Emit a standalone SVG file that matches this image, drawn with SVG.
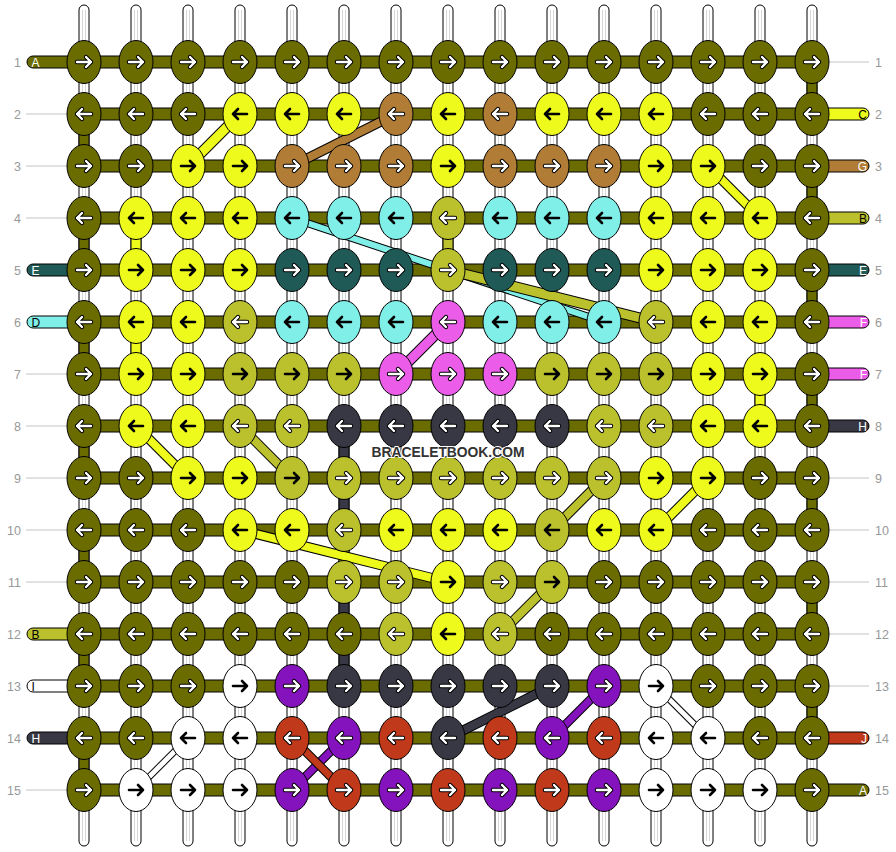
<svg xmlns="http://www.w3.org/2000/svg" xmlns:xlink="http://www.w3.org/1999/xlink" width="896" height="852" viewBox="0 0 896 852">
<style>
.num{font-family:"Liberation Sans",Arial,sans-serif;font-size:12.5px;fill:#999}
.lt{font-family:"Liberation Sans",Arial,sans-serif;font-size:12px}
.gl{stroke:#c4c4c4;stroke-width:1}
.st{fill:#fff;stroke:#000;stroke-width:1}
.sl{stroke:#d6d6d6;stroke-width:1}
.hb{fill:#6b6c00;stroke:#000;stroke-width:1}
.vs{stroke:#000;stroke-width:1}
.ed{stroke:#000;stroke-width:1}
.bo{fill:none;stroke:#000;stroke-linecap:butt}
.bi{fill:none;stroke-linecap:butt}
.o{fill:#6b6c00}.y{fill:#eef91c}.g{fill:#bbc12d}.b{fill:#b07c36}.c{fill:#80efe8}.t{fill:#1f5a57}.m{fill:#eb5de9}.d{fill:#383844}.w{fill:#fff}.p{fill:#8412bd}.r{fill:#c0391b}
.so{stroke:#6b6c00}.sy{stroke:#eef91c}.sg{stroke:#bbc12d}.sb{stroke:#b07c36}.sc{stroke:#80efe8}.sd{stroke:#383844}.sw{stroke:#fff}.sp{stroke:#8412bd}.sr{stroke:#c0391b}.sm{stroke:#eb5de9}
.wm{font-family:"Liberation Sans",Arial,sans-serif;font-weight:bold;font-size:15px;fill:#333;stroke:#fff;stroke-width:2;paint-order:stroke}
</style>
<defs>
<ellipse id="E" rx="17" ry="21.5" stroke="#000" stroke-width="1"/>
<path id="ar" d="M-7,0H7M2,-5L7,0L2,5" fill="none" stroke-linecap="round" stroke-linejoin="round"/>
<path id="al" d="M7,0H-7M-2,-5L-7,0L-2,5" fill="none" stroke-linecap="round" stroke-linejoin="round"/>
<g id="RW"><use href="#ar" stroke="#000" stroke-width="4.4"/><use href="#ar" stroke="#fff" stroke-width="2.4"/></g>
<g id="LW"><use href="#al" stroke="#000" stroke-width="4.4"/><use href="#al" stroke="#fff" stroke-width="2.4"/></g>
<g id="RB"><use href="#ar" stroke="#000" stroke-width="2.6"/></g>
<g id="LB"><use href="#al" stroke="#000" stroke-width="2.6"/></g>
</defs>
<rect width="896" height="852" fill="#fff"/>

<g id="labels">
<g class="num" text-anchor="end">
<text x="21" y="66.5">1</text><text x="21" y="118.5">2</text><text x="21" y="170.5">3</text><text x="21" y="222.5">4</text><text x="21" y="274.5">5</text><text x="21" y="326.5">6</text><text x="21" y="378.5">7</text><text x="21" y="430.5">8</text><text x="21" y="482.5">9</text><text x="21" y="534.5">10</text><text x="21" y="586.5">11</text><text x="21" y="638.5">12</text><text x="21" y="690.5">13</text><text x="21" y="742.5">14</text><text x="21" y="794.5">15</text>
</g>
<g class="num" text-anchor="start">
<text x="875" y="66.5">1</text><text x="875" y="118.5">2</text><text x="875" y="170.5">3</text><text x="875" y="222.5">4</text><text x="875" y="274.5">5</text><text x="875" y="326.5">6</text><text x="875" y="378.5">7</text><text x="875" y="430.5">8</text><text x="875" y="482.5">9</text><text x="875" y="534.5">10</text><text x="875" y="586.5">11</text><text x="875" y="638.5">12</text><text x="875" y="690.5">13</text><text x="875" y="742.5">14</text><text x="875" y="794.5">15</text>
</g>
<g class="gl">
<line x1="26" y1="114" x2="67" y2="114"/><line x1="26" y1="166" x2="67" y2="166"/><line x1="26" y1="218" x2="67" y2="218"/><line x1="26" y1="374" x2="67" y2="374"/><line x1="26" y1="426" x2="67" y2="426"/><line x1="26" y1="478" x2="67" y2="478"/><line x1="26" y1="530" x2="67" y2="530"/><line x1="26" y1="582" x2="67" y2="582"/><line x1="26" y1="790" x2="67" y2="790"/>
<line x1="829" y1="62" x2="869" y2="62"/><line x1="829" y1="478" x2="869" y2="478"/><line x1="829" y1="530" x2="869" y2="530"/><line x1="829" y1="582" x2="869" y2="582"/><line x1="829" y1="634" x2="869" y2="634"/><line x1="829" y1="686" x2="869" y2="686"/>
</g>
</g>

<g id="strands">
<g class="st">
<rect x="79" y="5" width="10" height="841" rx="5"/><rect x="131" y="5" width="10" height="841" rx="5"/><rect x="183" y="5" width="10" height="841" rx="5"/><rect x="235" y="5" width="10" height="841" rx="5"/><rect x="287" y="5" width="10" height="841" rx="5"/><rect x="339" y="5" width="10" height="841" rx="5"/><rect x="391" y="5" width="10" height="841" rx="5"/><rect x="443" y="5" width="10" height="841" rx="5"/><rect x="495" y="5" width="10" height="841" rx="5"/><rect x="547" y="5" width="10" height="841" rx="5"/><rect x="599" y="5" width="10" height="841" rx="5"/><rect x="651" y="5" width="10" height="841" rx="5"/><rect x="703" y="5" width="10" height="841" rx="5"/><rect x="755" y="5" width="10" height="841" rx="5"/><rect x="807" y="5" width="10" height="841" rx="5"/>
</g>
<g class="sl">
<path d="M82.5,10V841M85.5,10V841M134.5,10V841M137.5,10V841M186.5,10V841M189.5,10V841M238.5,10V841M241.5,10V841M290.5,10V841M293.5,10V841M342.5,10V841M345.5,10V841M394.5,10V841M397.5,10V841M446.5,10V841M449.5,10V841M498.5,10V841M501.5,10V841M550.5,10V841M553.5,10V841M602.5,10V841M605.5,10V841M654.5,10V841M657.5,10V841M706.5,10V841M709.5,10V841M758.5,10V841M761.5,10V841M810.5,10V841M813.5,10V841"/>
</g>
</g>

<g id="connectors">
<g class="hb">
<rect x="84" y="56" width="728" height="12"/><rect x="84" y="108" width="728" height="12"/><rect x="84" y="160" width="728" height="12"/><rect x="84" y="212" width="728" height="12"/><rect x="84" y="264" width="728" height="12"/><rect x="84" y="316" width="728" height="12"/><rect x="84" y="368" width="728" height="12"/><rect x="84" y="420" width="728" height="12"/><rect x="84" y="472" width="728" height="12"/><rect x="84" y="524" width="728" height="12"/><rect x="84" y="576" width="728" height="12"/><rect x="84" y="628" width="728" height="12"/><rect x="84" y="680" width="728" height="12"/><rect x="84" y="732" width="728" height="12"/><rect x="84" y="784" width="728" height="12"/>
</g>
<g class="ed">
<path class="o" d="M70,56H33a6,6 0 0 0 0,12H70z"/>
<path class="t" d="M70,264H33a6,6 0 0 0 0,12H70z"/>
<path class="c" d="M70,316H33a6,6 0 0 0 0,12H70z"/>
<path class="g" d="M70,628H33a6,6 0 0 0 0,12H70z"/>
<path class="w" d="M70,680H33a6,6 0 0 0 0,12H70z"/>
<path class="d" d="M70,732H33a6,6 0 0 0 0,12H70z"/>
<path class="y" d="M826,108H863a6,6 0 0 1 0,12H826z"/>
<path class="b" d="M826,160H863a6,6 0 0 1 0,12H826z"/>
<path class="g" d="M826,212H863a6,6 0 0 1 0,12H826z"/>
<path class="t" d="M826,264H863a6,6 0 0 1 0,12H826z"/>
<path class="m" d="M826,316H863a6,6 0 0 1 0,12H826z"/>
<path class="m" d="M826,368H863a6,6 0 0 1 0,12H826z"/>
<path class="d" d="M826,420H863a6,6 0 0 1 0,12H826z"/>
<path class="r" d="M826,732H863a6,6 0 0 1 0,12H826z"/>
<path class="o" d="M826,784H863a6,6 0 0 1 0,12H826z"/>
</g>
<g class="lt">
<text x="31.5" y="66.5" fill="#fff">A</text><text x="31.5" y="274.5" fill="#fff">E</text><text x="31.5" y="326.5" fill="#000">D</text><text x="31.5" y="638.5" fill="#000">B</text><text x="31.5" y="690.5" fill="#000">I</text><text x="31.5" y="742.5" fill="#fff">H</text>
</g>
<g class="lt" text-anchor="end">
<text x="867" y="118.5" fill="#000">C</text><text x="867" y="170.5" fill="#fff">G</text><text x="867" y="222.5" fill="#000">B</text><text x="867" y="274.5" fill="#fff">E</text><text x="867" y="326.5" fill="#fff">F</text><text x="867" y="378.5" fill="#fff">F</text><text x="867" y="430.5" fill="#fff">H</text><text x="867" y="742.5" fill="#fff">J</text><text x="867" y="794.5" fill="#fff">A</text>
</g>
<g class="vs">
<rect class="o" x="79" y="114" width="10" height="52"/><rect class="o" x="79" y="218" width="10" height="52"/><rect class="o" x="79" y="322" width="10" height="52"/><rect class="o" x="79" y="426" width="10" height="52"/><rect class="o" x="79" y="530" width="10" height="52"/><rect class="o" x="79" y="634" width="10" height="52"/><rect class="o" x="79" y="738" width="10" height="52"/>
<rect class="o" x="807" y="62" width="10" height="52"/><rect class="o" x="807" y="166" width="10" height="52"/><rect class="o" x="807" y="270" width="10" height="52"/><rect class="o" x="807" y="374" width="10" height="52"/><rect class="o" x="807" y="478" width="10" height="52"/><rect class="o" x="807" y="582" width="10" height="52"/><rect class="o" x="807" y="686" width="10" height="52"/>
<rect class="y" x="131" y="218" width="10" height="52"/><rect class="y" x="131" y="322" width="10" height="52"/>
<rect class="g" x="443" y="218" width="10" height="52"/>
<rect class="d" x="339" y="426" width="10" height="104"/><rect class="g" x="339" y="530" width="10" height="52"/><rect class="d" x="339" y="582" width="10" height="104"/>
<rect class="y" x="755" y="374" width="10" height="52"/>
</g>
<g id="diagonals">
<path class="bo" stroke-width="11" d="M240,114L188,166"/><path class="bi sy" stroke-width="9" d="M240,114L188,166"/>
<path class="bo" stroke-width="10" d="M396,114L292,166"/><path class="bi sb" stroke-width="8" d="M396,114L292,166"/>
<path class="bo" stroke-width="10" d="M708,166L760,218"/><path class="bi sy" stroke-width="8" d="M708,166L760,218"/>
<path class="bo" stroke-width="8" d="M292,218L604,322"/><path class="bi sc" stroke-width="6" d="M292,218L604,322"/>
<path class="bo" stroke-width="11" d="M448,270L656,322"/><path class="bi sg" stroke-width="9" d="M448,270L656,322"/>
<path class="bo" stroke-width="11" d="M448,322L396,374"/><path class="bi sm" stroke-width="9" d="M448,322L396,374"/>
<path class="bo" stroke-width="10" d="M136,426L188,478"/><path class="bi sy" stroke-width="8" d="M136,426L188,478"/>
<path class="bo" stroke-width="10" d="M240,426L292,478"/><path class="bi sg" stroke-width="8" d="M240,426L292,478"/>
<path class="bo" stroke-width="10" d="M240,530L448,582"/><path class="bi sy" stroke-width="8" d="M240,530L448,582"/>
<path class="bo" stroke-width="10" d="M604,478L552,530"/><path class="bi sg" stroke-width="8" d="M604,478L552,530"/>
<path class="bo" stroke-width="10" d="M708,478L656,530"/><path class="bi sy" stroke-width="8" d="M708,478L656,530"/>
<path class="bo" stroke-width="10" d="M552,582L500,634"/><path class="bi sg" stroke-width="8" d="M552,582L500,634"/>
<path class="bo" stroke-width="7" d="M188,738L136,790"/><path class="bi sw" stroke-width="5" d="M188,738L136,790"/>
<path class="bo" stroke-width="7" d="M656,686L708,738"/><path class="bi sw" stroke-width="5" d="M656,686L708,738"/>
<path class="bo" stroke-width="9" d="M344,738L292,790"/><path class="bi sp" stroke-width="7" d="M344,738L292,790"/>
<path class="bo" stroke-width="9" d="M292,738L344,790"/><path class="bi sr" stroke-width="7" d="M292,738L344,790"/>
<path class="bo" stroke-width="10" d="M552,686L448,738"/><path class="bi sd" stroke-width="8" d="M552,686L448,738"/>
<path class="bo" stroke-width="9" d="M604,686L552,738"/><path class="bi sp" stroke-width="7" d="M604,686L552,738"/>
</g>
</g>

<g id="knots">
<g id="k1-1" transform="translate(84,62)"><use href="#E" class="o"/><use href="#RW"/></g>
<g id="k1-2" transform="translate(136,62)"><use href="#E" class="o"/><use href="#RW"/></g>
<g id="k1-3" transform="translate(188,62)"><use href="#E" class="o"/><use href="#RW"/></g>
<g id="k1-4" transform="translate(240,62)"><use href="#E" class="o"/><use href="#RW"/></g>
<g id="k1-5" transform="translate(292,62)"><use href="#E" class="o"/><use href="#RW"/></g>
<g id="k1-6" transform="translate(344,62)"><use href="#E" class="o"/><use href="#RW"/></g>
<g id="k1-7" transform="translate(396,62)"><use href="#E" class="o"/><use href="#RW"/></g>
<g id="k1-8" transform="translate(448,62)"><use href="#E" class="o"/><use href="#RW"/></g>
<g id="k1-9" transform="translate(500,62)"><use href="#E" class="o"/><use href="#RW"/></g>
<g id="k1-10" transform="translate(552,62)"><use href="#E" class="o"/><use href="#RW"/></g>
<g id="k1-11" transform="translate(604,62)"><use href="#E" class="o"/><use href="#RW"/></g>
<g id="k1-12" transform="translate(656,62)"><use href="#E" class="o"/><use href="#RW"/></g>
<g id="k1-13" transform="translate(708,62)"><use href="#E" class="o"/><use href="#RW"/></g>
<g id="k1-14" transform="translate(760,62)"><use href="#E" class="o"/><use href="#RW"/></g>
<g id="k1-15" transform="translate(812,62)"><use href="#E" class="o"/><use href="#RW"/></g>

<g id="k2-1" transform="translate(84,114)"><use href="#E" class="o"/><use href="#LW"/></g>
<g id="k2-2" transform="translate(136,114)"><use href="#E" class="o"/><use href="#LW"/></g>
<g id="k2-3" transform="translate(188,114)"><use href="#E" class="o"/><use href="#LW"/></g>
<g id="k2-4" transform="translate(240,114)"><use href="#E" class="y"/><use href="#LB"/></g>
<g id="k2-5" transform="translate(292,114)"><use href="#E" class="y"/><use href="#LB"/></g>
<g id="k2-6" transform="translate(344,114)"><use href="#E" class="y"/><use href="#LB"/></g>
<g id="k2-7" transform="translate(396,114)"><use href="#E" class="b"/><use href="#LW"/></g>
<g id="k2-8" transform="translate(448,114)"><use href="#E" class="y"/><use href="#LB"/></g>
<g id="k2-9" transform="translate(500,114)"><use href="#E" class="b"/><use href="#LW"/></g>
<g id="k2-10" transform="translate(552,114)"><use href="#E" class="y"/><use href="#LB"/></g>
<g id="k2-11" transform="translate(604,114)"><use href="#E" class="y"/><use href="#LB"/></g>
<g id="k2-12" transform="translate(656,114)"><use href="#E" class="y"/><use href="#LB"/></g>
<g id="k2-13" transform="translate(708,114)"><use href="#E" class="o"/><use href="#LW"/></g>
<g id="k2-14" transform="translate(760,114)"><use href="#E" class="o"/><use href="#LW"/></g>
<g id="k2-15" transform="translate(812,114)"><use href="#E" class="o"/><use href="#LW"/></g>

<g id="k3-1" transform="translate(84,166)"><use href="#E" class="o"/><use href="#RW"/></g>
<g id="k3-2" transform="translate(136,166)"><use href="#E" class="o"/><use href="#RW"/></g>
<g id="k3-3" transform="translate(188,166)"><use href="#E" class="y"/><use href="#RB"/></g>
<g id="k3-4" transform="translate(240,166)"><use href="#E" class="y"/><use href="#RB"/></g>
<g id="k3-5" transform="translate(292,166)"><use href="#E" class="b"/><use href="#RW"/></g>
<g id="k3-6" transform="translate(344,166)"><use href="#E" class="b"/><use href="#RW"/></g>
<g id="k3-7" transform="translate(396,166)"><use href="#E" class="b"/><use href="#RW"/></g>
<g id="k3-8" transform="translate(448,166)"><use href="#E" class="y"/><use href="#RB"/></g>
<g id="k3-9" transform="translate(500,166)"><use href="#E" class="b"/><use href="#RW"/></g>
<g id="k3-10" transform="translate(552,166)"><use href="#E" class="b"/><use href="#RW"/></g>
<g id="k3-11" transform="translate(604,166)"><use href="#E" class="b"/><use href="#RW"/></g>
<g id="k3-12" transform="translate(656,166)"><use href="#E" class="y"/><use href="#RB"/></g>
<g id="k3-13" transform="translate(708,166)"><use href="#E" class="y"/><use href="#RB"/></g>
<g id="k3-14" transform="translate(760,166)"><use href="#E" class="o"/><use href="#RW"/></g>
<g id="k3-15" transform="translate(812,166)"><use href="#E" class="o"/><use href="#RW"/></g>

<g id="k4-1" transform="translate(84,218)"><use href="#E" class="o"/><use href="#LW"/></g>
<g id="k4-2" transform="translate(136,218)"><use href="#E" class="y"/><use href="#LB"/></g>
<g id="k4-3" transform="translate(188,218)"><use href="#E" class="y"/><use href="#LB"/></g>
<g id="k4-4" transform="translate(240,218)"><use href="#E" class="y"/><use href="#LB"/></g>
<g id="k4-5" transform="translate(292,218)"><use href="#E" class="c"/><use href="#LB"/></g>
<g id="k4-6" transform="translate(344,218)"><use href="#E" class="c"/><use href="#LB"/></g>
<g id="k4-7" transform="translate(396,218)"><use href="#E" class="c"/><use href="#LB"/></g>
<g id="k4-8" transform="translate(448,218)"><use href="#E" class="g"/><use href="#LW"/></g>
<g id="k4-9" transform="translate(500,218)"><use href="#E" class="c"/><use href="#LB"/></g>
<g id="k4-10" transform="translate(552,218)"><use href="#E" class="c"/><use href="#LB"/></g>
<g id="k4-11" transform="translate(604,218)"><use href="#E" class="c"/><use href="#LB"/></g>
<g id="k4-12" transform="translate(656,218)"><use href="#E" class="y"/><use href="#LB"/></g>
<g id="k4-13" transform="translate(708,218)"><use href="#E" class="y"/><use href="#LB"/></g>
<g id="k4-14" transform="translate(760,218)"><use href="#E" class="y"/><use href="#LB"/></g>
<g id="k4-15" transform="translate(812,218)"><use href="#E" class="o"/><use href="#LW"/></g>

<g id="k5-1" transform="translate(84,270)"><use href="#E" class="o"/><use href="#RW"/></g>
<g id="k5-2" transform="translate(136,270)"><use href="#E" class="y"/><use href="#RB"/></g>
<g id="k5-3" transform="translate(188,270)"><use href="#E" class="y"/><use href="#RB"/></g>
<g id="k5-4" transform="translate(240,270)"><use href="#E" class="y"/><use href="#RB"/></g>
<g id="k5-5" transform="translate(292,270)"><use href="#E" class="t"/><use href="#RW"/></g>
<g id="k5-6" transform="translate(344,270)"><use href="#E" class="t"/><use href="#RW"/></g>
<g id="k5-7" transform="translate(396,270)"><use href="#E" class="t"/><use href="#RW"/></g>
<g id="k5-8" transform="translate(448,270)"><use href="#E" class="g"/><use href="#RW"/></g>
<g id="k5-9" transform="translate(500,270)"><use href="#E" class="t"/><use href="#RW"/></g>
<g id="k5-10" transform="translate(552,270)"><use href="#E" class="t"/><use href="#RW"/></g>
<g id="k5-11" transform="translate(604,270)"><use href="#E" class="t"/><use href="#RW"/></g>
<g id="k5-12" transform="translate(656,270)"><use href="#E" class="y"/><use href="#RB"/></g>
<g id="k5-13" transform="translate(708,270)"><use href="#E" class="y"/><use href="#RB"/></g>
<g id="k5-14" transform="translate(760,270)"><use href="#E" class="y"/><use href="#RB"/></g>
<g id="k5-15" transform="translate(812,270)"><use href="#E" class="o"/><use href="#RW"/></g>

<g id="k6-1" transform="translate(84,322)"><use href="#E" class="o"/><use href="#LW"/></g>
<g id="k6-2" transform="translate(136,322)"><use href="#E" class="y"/><use href="#LB"/></g>
<g id="k6-3" transform="translate(188,322)"><use href="#E" class="y"/><use href="#LB"/></g>
<g id="k6-4" transform="translate(240,322)"><use href="#E" class="g"/><use href="#LW"/></g>
<g id="k6-5" transform="translate(292,322)"><use href="#E" class="c"/><use href="#LB"/></g>
<g id="k6-6" transform="translate(344,322)"><use href="#E" class="c"/><use href="#LB"/></g>
<g id="k6-7" transform="translate(396,322)"><use href="#E" class="c"/><use href="#LB"/></g>
<g id="k6-8" transform="translate(448,322)"><use href="#E" class="m"/><use href="#LW"/></g>
<g id="k6-9" transform="translate(500,322)"><use href="#E" class="c"/><use href="#LB"/></g>
<g id="k6-10" transform="translate(552,322)"><use href="#E" class="c"/><use href="#LB"/></g>
<g id="k6-11" transform="translate(604,322)"><use href="#E" class="c"/><use href="#LB"/></g>
<g id="k6-12" transform="translate(656,322)"><use href="#E" class="g"/><use href="#LW"/></g>
<g id="k6-13" transform="translate(708,322)"><use href="#E" class="y"/><use href="#LB"/></g>
<g id="k6-14" transform="translate(760,322)"><use href="#E" class="y"/><use href="#LB"/></g>
<g id="k6-15" transform="translate(812,322)"><use href="#E" class="o"/><use href="#LW"/></g>

<g id="k7-1" transform="translate(84,374)"><use href="#E" class="o"/><use href="#RW"/></g>
<g id="k7-2" transform="translate(136,374)"><use href="#E" class="y"/><use href="#RB"/></g>
<g id="k7-3" transform="translate(188,374)"><use href="#E" class="y"/><use href="#RB"/></g>
<g id="k7-4" transform="translate(240,374)"><use href="#E" class="g"/><use href="#RB"/></g>
<g id="k7-5" transform="translate(292,374)"><use href="#E" class="g"/><use href="#RB"/></g>
<g id="k7-6" transform="translate(344,374)"><use href="#E" class="g"/><use href="#RB"/></g>
<g id="k7-7" transform="translate(396,374)"><use href="#E" class="m"/><use href="#RW"/></g>
<g id="k7-8" transform="translate(448,374)"><use href="#E" class="m"/><use href="#RW"/></g>
<g id="k7-9" transform="translate(500,374)"><use href="#E" class="m"/><use href="#RW"/></g>
<g id="k7-10" transform="translate(552,374)"><use href="#E" class="g"/><use href="#RB"/></g>
<g id="k7-11" transform="translate(604,374)"><use href="#E" class="g"/><use href="#RB"/></g>
<g id="k7-12" transform="translate(656,374)"><use href="#E" class="g"/><use href="#RB"/></g>
<g id="k7-13" transform="translate(708,374)"><use href="#E" class="y"/><use href="#RB"/></g>
<g id="k7-14" transform="translate(760,374)"><use href="#E" class="y"/><use href="#RB"/></g>
<g id="k7-15" transform="translate(812,374)"><use href="#E" class="o"/><use href="#RW"/></g>

<g id="k8-1" transform="translate(84,426)"><use href="#E" class="o"/><use href="#LW"/></g>
<g id="k8-2" transform="translate(136,426)"><use href="#E" class="y"/><use href="#LB"/></g>
<g id="k8-3" transform="translate(188,426)"><use href="#E" class="y"/><use href="#LB"/></g>
<g id="k8-4" transform="translate(240,426)"><use href="#E" class="g"/><use href="#LW"/></g>
<g id="k8-5" transform="translate(292,426)"><use href="#E" class="g"/><use href="#LW"/></g>
<g id="k8-6" transform="translate(344,426)"><use href="#E" class="d"/><use href="#LW"/></g>
<g id="k8-7" transform="translate(396,426)"><use href="#E" class="d"/><use href="#LW"/></g>
<g id="k8-8" transform="translate(448,426)"><use href="#E" class="d"/><use href="#LW"/></g>
<g id="k8-9" transform="translate(500,426)"><use href="#E" class="d"/><use href="#LW"/></g>
<g id="k8-10" transform="translate(552,426)"><use href="#E" class="d"/><use href="#LW"/></g>
<g id="k8-11" transform="translate(604,426)"><use href="#E" class="g"/><use href="#LW"/></g>
<g id="k8-12" transform="translate(656,426)"><use href="#E" class="g"/><use href="#LW"/></g>
<g id="k8-13" transform="translate(708,426)"><use href="#E" class="y"/><use href="#LB"/></g>
<g id="k8-14" transform="translate(760,426)"><use href="#E" class="y"/><use href="#LB"/></g>
<g id="k8-15" transform="translate(812,426)"><use href="#E" class="o"/><use href="#LW"/></g>

<g id="k9-1" transform="translate(84,478)"><use href="#E" class="o"/><use href="#RW"/></g>
<g id="k9-2" transform="translate(136,478)"><use href="#E" class="o"/><use href="#RW"/></g>
<g id="k9-3" transform="translate(188,478)"><use href="#E" class="y"/><use href="#RB"/></g>
<g id="k9-4" transform="translate(240,478)"><use href="#E" class="y"/><use href="#RB"/></g>
<g id="k9-5" transform="translate(292,478)"><use href="#E" class="g"/><use href="#RB"/></g>
<g id="k9-6" transform="translate(344,478)"><use href="#E" class="g"/><use href="#RW"/></g>
<g id="k9-7" transform="translate(396,478)"><use href="#E" class="g"/><use href="#RW"/></g>
<g id="k9-8" transform="translate(448,478)"><use href="#E" class="g"/><use href="#RW"/></g>
<g id="k9-9" transform="translate(500,478)"><use href="#E" class="g"/><use href="#RW"/></g>
<g id="k9-10" transform="translate(552,478)"><use href="#E" class="g"/><use href="#RW"/></g>
<g id="k9-11" transform="translate(604,478)"><use href="#E" class="g"/><use href="#RW"/></g>
<g id="k9-12" transform="translate(656,478)"><use href="#E" class="y"/><use href="#RB"/></g>
<g id="k9-13" transform="translate(708,478)"><use href="#E" class="y"/><use href="#RB"/></g>
<g id="k9-14" transform="translate(760,478)"><use href="#E" class="o"/><use href="#RW"/></g>
<g id="k9-15" transform="translate(812,478)"><use href="#E" class="o"/><use href="#RW"/></g>

<g id="k10-1" transform="translate(84,530)"><use href="#E" class="o"/><use href="#LW"/></g>
<g id="k10-2" transform="translate(136,530)"><use href="#E" class="o"/><use href="#LW"/></g>
<g id="k10-3" transform="translate(188,530)"><use href="#E" class="o"/><use href="#LW"/></g>
<g id="k10-4" transform="translate(240,530)"><use href="#E" class="y"/><use href="#LB"/></g>
<g id="k10-5" transform="translate(292,530)"><use href="#E" class="y"/><use href="#LB"/></g>
<g id="k10-6" transform="translate(344,530)"><use href="#E" class="g"/><use href="#LW"/></g>
<g id="k10-7" transform="translate(396,530)"><use href="#E" class="y"/><use href="#LB"/></g>
<g id="k10-8" transform="translate(448,530)"><use href="#E" class="y"/><use href="#LB"/></g>
<g id="k10-9" transform="translate(500,530)"><use href="#E" class="y"/><use href="#LB"/></g>
<g id="k10-10" transform="translate(552,530)"><use href="#E" class="g"/><use href="#LB"/></g>
<g id="k10-11" transform="translate(604,530)"><use href="#E" class="y"/><use href="#LB"/></g>
<g id="k10-12" transform="translate(656,530)"><use href="#E" class="y"/><use href="#LB"/></g>
<g id="k10-13" transform="translate(708,530)"><use href="#E" class="o"/><use href="#LW"/></g>
<g id="k10-14" transform="translate(760,530)"><use href="#E" class="o"/><use href="#LW"/></g>
<g id="k10-15" transform="translate(812,530)"><use href="#E" class="o"/><use href="#LW"/></g>

<g id="k11-1" transform="translate(84,582)"><use href="#E" class="o"/><use href="#RW"/></g>
<g id="k11-2" transform="translate(136,582)"><use href="#E" class="o"/><use href="#RW"/></g>
<g id="k11-3" transform="translate(188,582)"><use href="#E" class="o"/><use href="#RW"/></g>
<g id="k11-4" transform="translate(240,582)"><use href="#E" class="o"/><use href="#RW"/></g>
<g id="k11-5" transform="translate(292,582)"><use href="#E" class="o"/><use href="#RW"/></g>
<g id="k11-6" transform="translate(344,582)"><use href="#E" class="g"/><use href="#RW"/></g>
<g id="k11-7" transform="translate(396,582)"><use href="#E" class="g"/><use href="#RW"/></g>
<g id="k11-8" transform="translate(448,582)"><use href="#E" class="y"/><use href="#RB"/></g>
<g id="k11-9" transform="translate(500,582)"><use href="#E" class="g"/><use href="#RW"/></g>
<g id="k11-10" transform="translate(552,582)"><use href="#E" class="g"/><use href="#RB"/></g>
<g id="k11-11" transform="translate(604,582)"><use href="#E" class="o"/><use href="#RW"/></g>
<g id="k11-12" transform="translate(656,582)"><use href="#E" class="o"/><use href="#RW"/></g>
<g id="k11-13" transform="translate(708,582)"><use href="#E" class="o"/><use href="#RW"/></g>
<g id="k11-14" transform="translate(760,582)"><use href="#E" class="o"/><use href="#RW"/></g>
<g id="k11-15" transform="translate(812,582)"><use href="#E" class="o"/><use href="#RW"/></g>

<g id="k12-1" transform="translate(84,634)"><use href="#E" class="o"/><use href="#LW"/></g>
<g id="k12-2" transform="translate(136,634)"><use href="#E" class="o"/><use href="#LW"/></g>
<g id="k12-3" transform="translate(188,634)"><use href="#E" class="o"/><use href="#LW"/></g>
<g id="k12-4" transform="translate(240,634)"><use href="#E" class="o"/><use href="#LW"/></g>
<g id="k12-5" transform="translate(292,634)"><use href="#E" class="o"/><use href="#LW"/></g>
<g id="k12-6" transform="translate(344,634)"><use href="#E" class="o"/><use href="#LW"/></g>
<g id="k12-7" transform="translate(396,634)"><use href="#E" class="g"/><use href="#LW"/></g>
<g id="k12-8" transform="translate(448,634)"><use href="#E" class="y"/><use href="#LB"/></g>
<g id="k12-9" transform="translate(500,634)"><use href="#E" class="g"/><use href="#LW"/></g>
<g id="k12-10" transform="translate(552,634)"><use href="#E" class="o"/><use href="#LW"/></g>
<g id="k12-11" transform="translate(604,634)"><use href="#E" class="o"/><use href="#LW"/></g>
<g id="k12-12" transform="translate(656,634)"><use href="#E" class="o"/><use href="#LW"/></g>
<g id="k12-13" transform="translate(708,634)"><use href="#E" class="o"/><use href="#LW"/></g>
<g id="k12-14" transform="translate(760,634)"><use href="#E" class="o"/><use href="#LW"/></g>
<g id="k12-15" transform="translate(812,634)"><use href="#E" class="o"/><use href="#LW"/></g>

<g id="k13-1" transform="translate(84,686)"><use href="#E" class="o"/><use href="#RW"/></g>
<g id="k13-2" transform="translate(136,686)"><use href="#E" class="o"/><use href="#RW"/></g>
<g id="k13-3" transform="translate(188,686)"><use href="#E" class="o"/><use href="#RW"/></g>
<g id="k13-4" transform="translate(240,686)"><use href="#E" class="w"/><use href="#RB"/></g>
<g id="k13-5" transform="translate(292,686)"><use href="#E" class="p"/><use href="#RW"/></g>
<g id="k13-6" transform="translate(344,686)"><use href="#E" class="d"/><use href="#RW"/></g>
<g id="k13-7" transform="translate(396,686)"><use href="#E" class="d"/><use href="#RW"/></g>
<g id="k13-8" transform="translate(448,686)"><use href="#E" class="d"/><use href="#RW"/></g>
<g id="k13-9" transform="translate(500,686)"><use href="#E" class="d"/><use href="#RW"/></g>
<g id="k13-10" transform="translate(552,686)"><use href="#E" class="d"/><use href="#RW"/></g>
<g id="k13-11" transform="translate(604,686)"><use href="#E" class="p"/><use href="#RW"/></g>
<g id="k13-12" transform="translate(656,686)"><use href="#E" class="w"/><use href="#RB"/></g>
<g id="k13-13" transform="translate(708,686)"><use href="#E" class="o"/><use href="#RW"/></g>
<g id="k13-14" transform="translate(760,686)"><use href="#E" class="o"/><use href="#RW"/></g>
<g id="k13-15" transform="translate(812,686)"><use href="#E" class="o"/><use href="#RW"/></g>

<g id="k14-1" transform="translate(84,738)"><use href="#E" class="o"/><use href="#LW"/></g>
<g id="k14-2" transform="translate(136,738)"><use href="#E" class="o"/><use href="#LW"/></g>
<g id="k14-3" transform="translate(188,738)"><use href="#E" class="w"/><use href="#LB"/></g>
<g id="k14-4" transform="translate(240,738)"><use href="#E" class="w"/><use href="#LB"/></g>
<g id="k14-5" transform="translate(292,738)"><use href="#E" class="r"/><use href="#LW"/></g>
<g id="k14-6" transform="translate(344,738)"><use href="#E" class="p"/><use href="#LW"/></g>
<g id="k14-7" transform="translate(396,738)"><use href="#E" class="r"/><use href="#LW"/></g>
<g id="k14-8" transform="translate(448,738)"><use href="#E" class="d"/><use href="#LW"/></g>
<g id="k14-9" transform="translate(500,738)"><use href="#E" class="r"/><use href="#LW"/></g>
<g id="k14-10" transform="translate(552,738)"><use href="#E" class="p"/><use href="#LW"/></g>
<g id="k14-11" transform="translate(604,738)"><use href="#E" class="r"/><use href="#LW"/></g>
<g id="k14-12" transform="translate(656,738)"><use href="#E" class="w"/><use href="#LB"/></g>
<g id="k14-13" transform="translate(708,738)"><use href="#E" class="w"/><use href="#LB"/></g>
<g id="k14-14" transform="translate(760,738)"><use href="#E" class="o"/><use href="#LW"/></g>
<g id="k14-15" transform="translate(812,738)"><use href="#E" class="o"/><use href="#LW"/></g>

<g id="k15-1" transform="translate(84,790)"><use href="#E" class="o"/><use href="#RW"/></g>
<g id="k15-2" transform="translate(136,790)"><use href="#E" class="w"/><use href="#RB"/></g>
<g id="k15-3" transform="translate(188,790)"><use href="#E" class="w"/><use href="#RB"/></g>
<g id="k15-4" transform="translate(240,790)"><use href="#E" class="w"/><use href="#RB"/></g>
<g id="k15-5" transform="translate(292,790)"><use href="#E" class="p"/><use href="#RW"/></g>
<g id="k15-6" transform="translate(344,790)"><use href="#E" class="r"/><use href="#RW"/></g>
<g id="k15-7" transform="translate(396,790)"><use href="#E" class="p"/><use href="#RW"/></g>
<g id="k15-8" transform="translate(448,790)"><use href="#E" class="r"/><use href="#RW"/></g>
<g id="k15-9" transform="translate(500,790)"><use href="#E" class="p"/><use href="#RW"/></g>
<g id="k15-10" transform="translate(552,790)"><use href="#E" class="r"/><use href="#RW"/></g>
<g id="k15-11" transform="translate(604,790)"><use href="#E" class="p"/><use href="#RW"/></g>
<g id="k15-12" transform="translate(656,790)"><use href="#E" class="w"/><use href="#RB"/></g>
<g id="k15-13" transform="translate(708,790)"><use href="#E" class="w"/><use href="#RB"/></g>
<g id="k15-14" transform="translate(760,790)"><use href="#E" class="w"/><use href="#RB"/></g>
<g id="k15-15" transform="translate(812,790)"><use href="#E" class="o"/><use href="#RW"/></g>
</g>

<text class="wm" x="448" y="457" text-anchor="middle" textLength="153" lengthAdjust="spacingAndGlyphs">BRACELETBOOK.COM</text>
</svg>
